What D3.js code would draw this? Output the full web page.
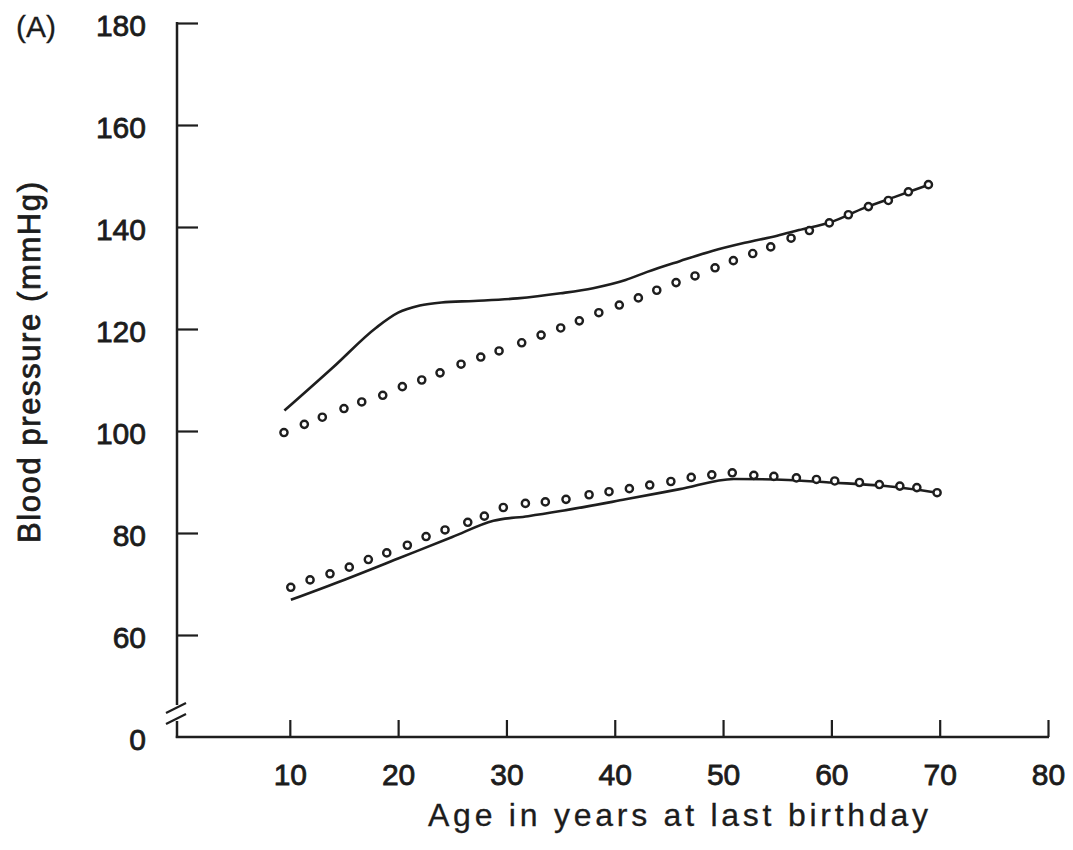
<!DOCTYPE html>
<html>
<head>
<meta charset="utf-8">
<script src="https://cdn.jsdelivr.net/npm/d3@7"></script>
<style>
  html, body { margin: 0; padding: 0; background: #ffffff; }
  svg { display: block; }
  text { font-family: "Liberation Sans", Arial, Helvetica, sans-serif; fill: #1c1c1c; stroke: #1c1c1c; stroke-width: 0.8px; }
  text.light { stroke-width: 0.3px; }
</style>
</head>
<body>
<svg id="chart" width="1073" height="850"></svg>
<script>
// ---- Data ----
const xTicks = [10, 20, 30, 40, 50, 60, 70, 80];
const yTicks = [60, 80, 100, 120, 140, 160, 180];
const yTickLabels = ["60", "80", "100", "120", "140", "160", "180"];
const yBreakLabel = "0";

// Upper series: circles (age, mmHg)
const upperCircleAges = [9.46, 11.34, 13.0, 15.0, 16.64, 18.58, 20.39, 22.18, 23.87, 25.81, 27.63, 29.32, 31.41, 33.2, 35.01, 36.73, 38.53, 40.42, 42.18, 43.88, 45.66, 47.41, 49.26, 50.95, 52.74, 54.4, 56.28, 57.97, 59.81, 61.57, 63.42, 65.26, 67.11, 68.96];
const upperCircleValues = [99.7, 101.3, 102.7, 104.4, 105.7, 107.0, 108.7, 110.0, 111.4, 113.1, 114.5, 115.7, 117.3, 118.8, 120.2, 121.6, 123.2, 124.7, 126.1, 127.6, 129.1, 130.4, 132.0, 133.4, 134.8, 136.1, 137.8, 139.3, 140.8, 142.4, 144.0, 145.2, 146.9, 148.3];

// Upper series: solid line
const upperLineAges = [9.5, 14, 18, 20, 22, 24, 27, 31, 35, 38, 41, 43, 46, 49, 52, 55, 57, 60, 63, 66, 69];
const upperLineValues = [104.0, 112.5, 120.3, 123.2, 124.6, 125.2, 125.5, 126.0, 127.0, 128.0, 129.6, 131.2, 133.3, 135.3, 136.9, 138.3, 139.4, 141.0, 143.7, 146.0, 148.3];

// Lower series: circles
const lowerCircleAges = [10.09, 11.87, 13.71, 15.49, 17.25, 18.95, 20.85, 22.58, 24.33, 26.43, 27.96, 29.71, 31.75, 33.59, 35.5, 37.63, 39.47, 41.35, 43.23, 45.18, 47.06, 48.96, 50.85, 52.84, 54.69, 56.77, 58.62, 60.31, 62.59, 64.43, 66.32, 67.89, 69.76];
const lowerCircleValues = [69.35, 70.8, 72.0, 73.3, 74.8, 76.1, 77.6, 79.3, 80.6, 82.1, 83.3, 85.0, 85.8, 86.1, 86.6, 87.5, 88.1, 88.7, 89.4, 90.1, 90.9, 91.4, 91.8, 91.3, 91.1, 90.8, 90.5, 90.2, 89.9, 89.5, 89.2, 88.9, 87.9];

// Lower series: solid line
const lowerLineAges = [10.1, 15, 20, 25, 28.8, 32, 35, 41, 46, 51, 56, 60, 65, 69.8];
const lowerLineValues = [66.9, 70.8, 75.0, 79.2, 82.4, 83.3, 84.3, 86.6, 88.6, 90.6, 90.4, 89.9, 89.2, 87.9];

const panelLabel = "(A)";
const xTitle = "Age in years at last birthday";
const yTitle = "Blood pressure (mmHg)";

// ---- Drawing ----
const svg = d3.select("#chart");
const ink = "#1e1e1e";

const x = d3.scaleLinear().domain([0, 80]).range([181.5, 1048]);
const y = d3.scaleLinear().domain([40, 180]).range([737, 23]);

const axisX = 177;       // position of vertical axis line
const fontSize = 30;
const fontFam = '"Liberation Sans", Arial, sans-serif';

// Y axis ticks + labels
const yAxis = d3.axisLeft(y)
  .tickValues(yTicks)
  .tickFormat((d, i) => yTickLabels[i])
  .tickSizeInner(-21)
  .tickSizeOuter(0)
  .tickPadding(31);

const gy = svg.append("g").attr("transform", `translate(${axisX},0)`).call(yAxis);
gy.select(".domain").remove();
gy.selectAll(".tick line").attr("stroke", ink).attr("stroke-width", 2.2);
gy.selectAll(".tick text")
  .attr("font-size", fontSize)
  .attr("dy", "12.5px")
  .attr("fill", ink)
  .style("font-family", fontFam);

// "0" label at the broken base
gy.append("text")
  .attr("x", -31).attr("y", y(40)).attr("dy", "12.5px")
  .attr("text-anchor", "end")
  .attr("font-size", fontSize)
  .text(yBreakLabel);

// Y axis line with break
const yBreakTop = 705, yBreakBottom = 721;
svg.append("line")
  .attr("x1", axisX).attr("x2", axisX)
  .attr("y1", y(180) - 1).attr("y2", yBreakTop)
  .attr("stroke", ink).attr("stroke-width", 2.5);
svg.append("line")
  .attr("x1", axisX).attr("x2", axisX)
  .attr("y1", yBreakBottom).attr("y2", y(40) + 1)
  .attr("stroke", ink).attr("stroke-width", 2.5);
// break marks
[[713, 703], [724, 714]].forEach(([ya, yb]) => {
  svg.append("line")
    .attr("x1", axisX - 11).attr("y1", ya)
    .attr("x2", axisX + 9).attr("y2", yb)
    .attr("stroke", ink).attr("stroke-width", 2.2);
});

// X axis
const xAxis = d3.axisBottom(x)
  .tickValues(xTicks)
  .tickSizeInner(-17)
  .tickSizeOuter(0)
  .tickPadding(27);
const gx = svg.append("g").attr("transform", `translate(0,${y(40)})`).call(xAxis);
gx.select(".domain").remove();
gx.selectAll(".tick line").attr("stroke", ink).attr("stroke-width", 2.2);
gx.selectAll(".tick text")
  .attr("font-size", fontSize)
  .attr("fill", ink)
  .style("font-family", fontFam);
svg.append("line")
  .attr("x1", axisX - 1.2).attr("x2", x(80) + 1)
  .attr("y1", y(40)).attr("y2", y(40))
  .attr("stroke", ink).attr("stroke-width", 2.5);

// Lines
const line = d3.line().x(d => x(d[0])).y(d => y(d[1])).curve(d3.curveMonotoneX);
const upperLine = upperLineAges.map((a, i) => [a, upperLineValues[i]]);
const lowerLine = lowerLineAges.map((a, i) => [a, lowerLineValues[i]]);
[upperLine, lowerLine].forEach(data => {
  svg.append("path")
    .datum(data)
    .attr("d", line)
    .attr("fill", "none")
    .attr("stroke", ink)
    .attr("stroke-width", 2.6)
    .attr("stroke-linejoin", "round");
});

// Circles
const upperCircles = upperCircleAges.map((a, i) => [a, upperCircleValues[i]]);
const lowerCircles = lowerCircleAges.map((a, i) => [a, lowerCircleValues[i]]);
[upperCircles, lowerCircles].forEach(data => {
  svg.append("g").selectAll("circle")
    .data(data)
    .join("circle")
    .attr("cx", d => x(d[0]))
    .attr("cy", d => y(d[1]))
    .attr("r", 3.6)
    .attr("fill", "#ffffff")
    .attr("stroke", ink)
    .attr("stroke-width", 2.4);
});

// Panel label
svg.append("text")
  .attr("class", "light")
  .attr("x", 16).attr("y", 37)
  .attr("font-size", fontSize)
  .text(panelLabel);

// Axis titles
svg.append("text")
  .attr("class", "light")
  .attr("x", 428).attr("y", 826)
  .attr("font-size", 32)
  .attr("textLength", 500)
  .attr("lengthAdjust", "spacing")
  .text(xTitle);

svg.append("text")
  .attr("transform", "translate(40,543) rotate(-90)")
  .attr("x", 0).attr("y", 0)
  .attr("font-size", 31)
  .attr("textLength", 361)
  .attr("lengthAdjust", "spacing")
  .text(yTitle);
</script>
</body>
</html>
